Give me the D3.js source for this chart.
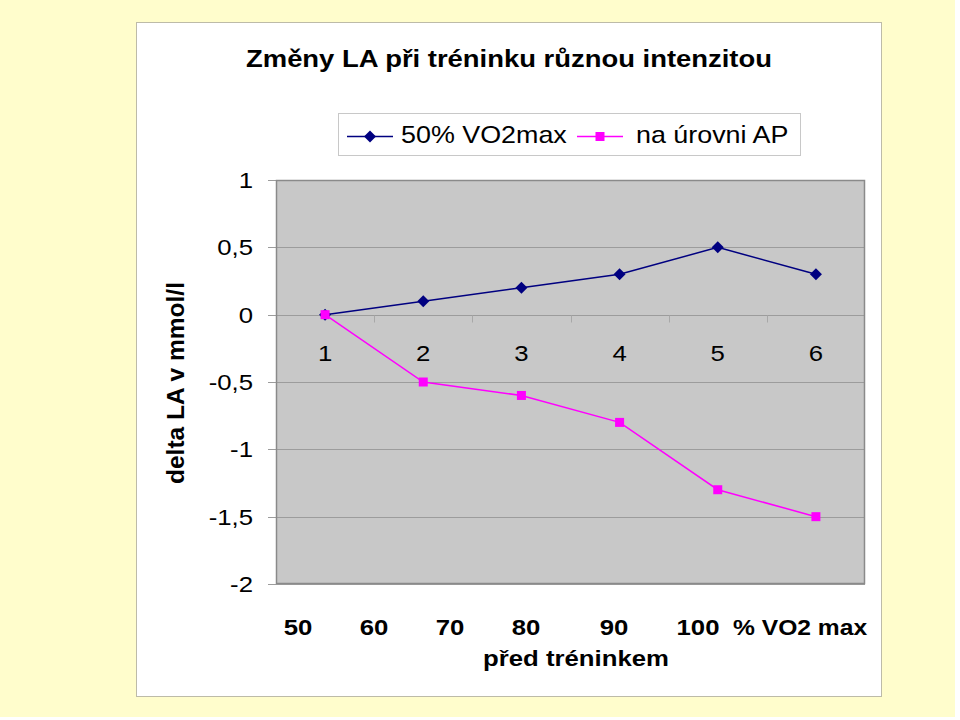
<!DOCTYPE html>
<html><head><meta charset="utf-8">
<script src="https://cdn.jsdelivr.net/npm/d3@7"></script>
<style>html,body{margin:0;padding:0;background:#fff;}svg{display:block;}</style>
</head><body>
<script>
const categories = ["1","2","3","4","5","6"];
const series50 = [0, 0.1, 0.2, 0.3, 0.5, 0.3];
const seriesAP = [0, -0.5, -0.6, -0.8, -1.3, -1.5];
const seriesNames = ["50% VO2max", "na úrovni AP"];
const yTicks = [1, 0.5, 0, -0.5, -1, -1.5, -2];
const intensityLabels = ["50", "60", "70", "80", "90", "100"];
const unitLabel = "% VO2 max";
const subLabel = "před tréninkem";
const title = "Změny LA při tréninku různou intenzitou";
const yTitle = "delta LA v mmol/l";

const W = 960, H = 720, SX = 1.12;
const svg = d3.select("body").append("svg").attr("width", W).attr("height", H)
  .style("font-family", "'Liberation Sans', Arial, sans-serif");

function txt(g, x, y, s, size, bold, anchor) {
  return g.append("text").attr("transform", `translate(${x},${y}) scale(${SX},1)`)
    .attr("text-anchor", anchor || "start").attr("font-size", size)
    .attr("font-weight", bold ? "bold" : "normal").attr("fill", "#000").text(s);
}

svg.append("rect").attr("x",0).attr("y",0).attr("width",955).attr("height",717).attr("fill","#FFFDCC");
svg.append("rect").attr("x",136.5).attr("y",22.5).attr("width",745).attr("height",674)
  .attr("fill","#fff").attr("stroke","#BDBBA8").attr("stroke-width",1);

const plot = {l:276, r:865, t:180, b:584};
const x = d3.scaleBand().domain(categories).range([plot.l, plot.r]).padding(0);
const y = d3.scaleLinear().domain([-2, 1]).range([plot.b, plot.t]);

svg.append("rect").attr("x",plot.l).attr("y",plot.t).attr("width",plot.r-plot.l).attr("height",plot.b-plot.t)
  .attr("fill","#C8C8C8");

svg.append("g").selectAll("line").data(yTicks).join("line")
  .attr("x1", plot.l-8).attr("x2", plot.r).attr("y1", d=>Math.round(y(d))+0.5).attr("y2", d=>Math.round(y(d))+0.5)
  .attr("stroke", "#9C9C9C").attr("stroke-width",1);

svg.append("rect").attr("x",plot.l+0.5).attr("y",plot.t+0.5).attr("width",plot.r-plot.l-1).attr("height",plot.b-plot.t-1)
  .attr("fill","none").attr("stroke","#8A8A8A").attr("stroke-width",1.5);

const yl = svg.append("g");
yTicks.forEach(d => txt(yl, 253, y(d)+8, String(d).replace(".", ","), 23, false, "end"));

const y0 = Math.round(y(0))+0.5;
const bounds = categories.map(c=>x(c)).concat([plot.r]);
svg.append("g").selectAll("line").data(bounds.slice(1,-1)).join("line")
  .attr("x1", d=>Math.round(d)+0.5).attr("x2", d=>Math.round(d)+0.5).attr("y1", y0).attr("y2", y0+7)
  .attr("stroke","#A8A8A8").attr("stroke-width",1);

const cl = svg.append("g");
categories.forEach(c => txt(cl, x(c)+x.bandwidth()/2, y(0)+46, c, 23, false, "middle"));

const cx = d => x(categories[d]) + x.bandwidth()/2;
const line = d3.line().x((d,i)=>cx(i)).y(d=>y(d));

svg.append("path").datum(series50).attr("d", line).attr("fill","none").attr("stroke","#000080").attr("stroke-width",1.5);
svg.append("path").datum(seriesAP).attr("d", line).attr("fill","none").attr("stroke","#FF00FF").attr("stroke-width",1.5);

svg.append("g").selectAll("path").data(series50).join("path")
  .attr("d", "M0,-6L6,0L0,6L-6,0Z").attr("transform",(d,i)=>`translate(${cx(i)},${y(d)})`).attr("fill","#000080");
svg.append("g").selectAll("rect").data(seriesAP).join("rect")
  .attr("x",(d,i)=>cx(i)-4.5).attr("y",d=>y(d)-4.5).attr("width",9).attr("height",9).attr("fill","#FF00FF");

// title
svg.append("text").attr("x", 246).attr("y", 67).attr("font-size",24)
  .attr("font-weight","bold").attr("fill","#000").text(title)
  .attr("textLength", 526).attr("lengthAdjust","spacingAndGlyphs");

// y axis title
svg.append("text").attr("transform","translate(184,383) rotate(-90)").attr("text-anchor","middle")
  .attr("font-size",23).attr("font-weight","bold").attr("fill","#000").text(yTitle)
  .attr("textLength", 202).attr("lengthAdjust","spacingAndGlyphs");

// legend
const lg = svg.append("g");
lg.append("rect").attr("x",338.5).attr("y",113.5).attr("width",462).attr("height",42).attr("fill","#fff").attr("stroke","#C8C8C8");
lg.append("line").attr("x1",347).attr("x2",393).attr("y1",136.5).attr("y2",136.5).attr("stroke","#000080").attr("stroke-width",1.5);
lg.append("path").attr("d","M0,-6L6,0L0,6L-6,0Z").attr("transform","translate(370,136.5)").attr("fill","#000080");
txt(lg, 401, 143, seriesNames[0], 24, false);
lg.append("line").attr("x1",577).attr("x2",623).attr("y1",136.5).attr("y2",136.5).attr("stroke","#FF00FF").attr("stroke-width",1.5);
lg.append("rect").attr("x",595.5).attr("y",132).attr("width",9).attr("height",9).attr("fill","#FF00FF");
txt(lg, 636, 143, seriesNames[1], 24, false);

// bottom intensity labels
const ixPos = [298, 374, 450, 526, 614, 698];
const bl = svg.append("g");
intensityLabels.forEach((d,i) => txt(bl, ixPos[i], 635, d, 23, true, "middle"));
txt(bl, 733, 635, unitLabel, 22, true);
txt(bl, 576, 666, subLabel, 23, true, "middle");
</script>
</body></html>
